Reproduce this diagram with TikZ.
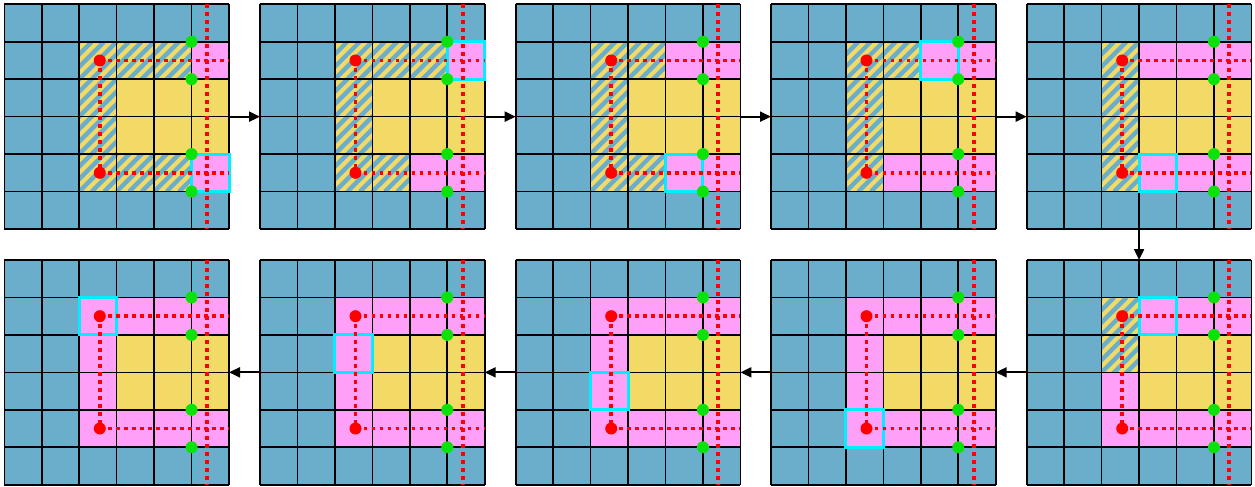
\documentclass[tikz,border=0pt]{standalone}
\usetikzlibrary{arrows.meta}
\definecolor{cblue}{RGB}{106,174,203}
\definecolor{cyel}{RGB}{243,218,103}
\definecolor{cpink}{RGB}{255,160,248}
\definecolor{ccyan}{RGB}{0,238,255}
\definecolor{cgreen}{RGB}{10,226,10}
\definecolor{cred}{RGB}{255,0,0}
\tikzset{
 gridln/.style={line width=1.6pt, black},
 stripe/.style={line width=4.4pt, cblue},
 hl/.style={line width=3pt, ccyan},
 reddash/.style={line width=3.9pt, cred, dash pattern=on 3.9pt off 4.1pt},
 flow/.style={line width=2pt, black, -{Triangle[length=11pt,width=10pt]}},
 panelframe/.style={minimum width=224.7pt, minimum height=224.7pt, inner sep=0pt, outer sep=0pt, anchor=north west},
}
\newcommand\drawpanel[4]{%
\begin{scope}[shift={(#1pt,-#2pt)}, x=37.45pt, y=-37.45pt]
 \fill[cblue] (0,0) rectangle (6,6);
 \fill[cyel] (2,1) rectangle (6,5);
 \begin{scope}
  \clip (2,1) rectangle (6,2) (2,4) rectangle (6,5) (2,2) rectangle (3,4);
  \foreach \k in {-13,...,19} \draw[stripe] (\k/3,5) -- ++(4,-4);
 \end{scope}
 \foreach \c/\r in {#3} \fill[cpink] (\c,\r) rectangle ++(1,1);
 \foreach \i in {0,...,6} {\draw[gridln] (\i,0) -- (\i,6); \draw[gridln] (0,\i) -- (6,\i);}
 \draw[hl] (#4) rectangle ++(1,1);
 \draw[reddash] (5.41,0) -- (5.41,6);
 \draw[reddash] (2.55,1.5) -- (6,1.5);
 \draw[reddash] (2.55,4.5) -- (6,4.5);
 \draw[reddash] (2.55,1.5) -- (2.55,4.5);
 \fill[cred] (2.55,1.5) circle (6pt);
 \fill[cred] (2.55,4.5) circle (6pt);
 \foreach \r in {1,2,4,5} \fill[cgreen] (5,\r) circle (6pt);
\end{scope}}
\begin{document}
\begin{tikzpicture}[x=1pt,y=-1pt]
\useasboundingbox (0,0) rectangle (1255,487);
\drawpanel{4.3}{4.3}{5/1,5/4}{5,4}
\drawpanel{260}{4.3}{5/1,4/4,5/4}{5,1}
\drawpanel{515.7}{4.3}{4/1,5/1,4/4,5/4}{4,4}
\drawpanel{771}{4.3}{4/1,5/1,3/4,4/4,5/4}{4,1}
\drawpanel{1026.7}{4.3}{3/1,4/1,5/1,3/4,4/4,5/4}{3,4}
\drawpanel{1026.7}{260}{3/1,4/1,5/1,2/3,2/4,3/4,4/4,5/4}{3,1}
\drawpanel{771}{260}{2/1,3/1,4/1,5/1,2/2,2/3,2/4,3/4,4/4,5/4}{2,4}
\drawpanel{515.7}{260}{2/1,3/1,4/1,5/1,2/2,2/3,2/4,3/4,4/4,5/4}{2,3}
\drawpanel{260}{260}{2/1,3/1,4/1,5/1,2/2,2/3,2/4,3/4,4/4,5/4}{2,2}
\drawpanel{4.3}{260}{2/1,3/1,4/1,5/1,2/2,2/3,2/4,3/4,4/4,5/4}{2,1}
\node[panelframe] (p1) at (4.3,4.3) {};
\node[panelframe] (p2) at (260,4.3) {};
\node[panelframe] (p3) at (515.7,4.3) {};
\node[panelframe] (p4) at (771,4.3) {};
\node[panelframe] (p5) at (1026.7,4.3) {};
\node[panelframe] (p6) at (1026.7,260) {};
\node[panelframe] (p7) at (771,260) {};
\node[panelframe] (p8) at (515.7,260) {};
\node[panelframe] (p9) at (260,260) {};
\node[panelframe] (p10) at (4.3,260) {};
\draw[flow] (p1.east) -- (p2.west);
\draw[flow] (p2.east) -- (p3.west);
\draw[flow] (p3.east) -- (p4.west);
\draw[flow] (p4.east) -- (p5.west);
\draw[flow] (p5.south) -- (p6.north);
\draw[flow] (p6.west) -- (p7.east);
\draw[flow] (p7.west) -- (p8.east);
\draw[flow] (p8.west) -- (p9.east);
\draw[flow] (p9.west) -- (p10.east);
\end{tikzpicture}
\end{document}
